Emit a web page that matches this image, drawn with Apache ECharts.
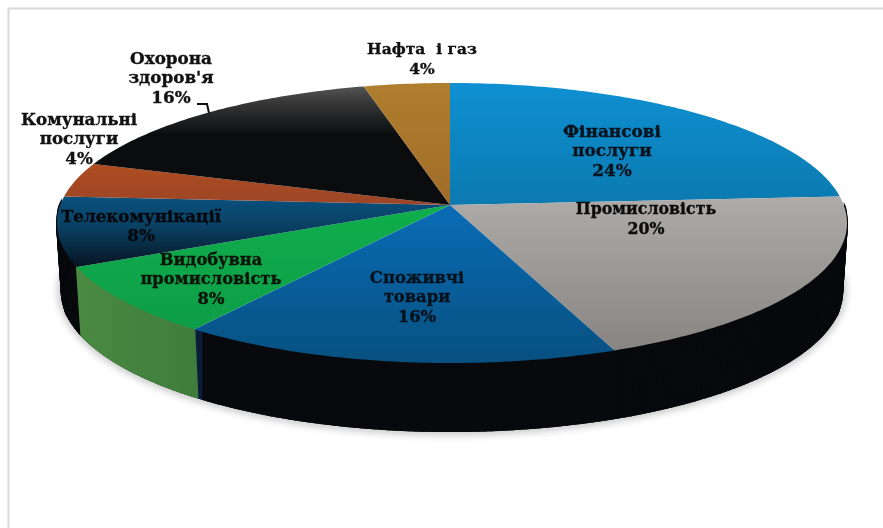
<!DOCTYPE html>
<html><head><meta charset="utf-8">
<style>html,body{margin:0;padding:0;background:#fff}#c{width:883px;height:528px;filter:blur(0.45px)}</style>
<script src="https://cdn.jsdelivr.net/npm/echarts@6/dist/echarts.min.js"></script>
</head><body><div id="c"></div>
<script>
const categories = ["Фінансові\nпослуги","Промисловість","Споживчі\nтовари","Видобувна\nпромисловість","Телекомунікації","Комунальні\nпослуги","Охорона\nздоров'я","Нафта  і газ"];
const shares = [24,20,16,8,8,4,16,4];

// Perspective disc geometry
const view = {cx:450, cy:205, a:393.7, leftScale:0.99, b:137.7, p:0.1286, depth:68, shrink:0.988};
const topFills = [
  [[0,'#0e90d2'],[1,'#0b78ad']],
  [[0,'#aeaba8'],[1,'#86827f']],
  [[0,'#0a6cb6'],[1,'#07507f']],
  [[0,'#0fae4c'],[1,'#0e9c48']],
  [[0,'#0a5585'],[0.45,'#0a4062'],[1,'#05101a']],
  [[0,'#b04e20'],[1,'#9c4526']],
  [[0,'#565656'],[0.4,'#343434'],[1,'#0a0c0e']],
  [[0,'#b07e2e'],[1,'#a06c28']]
];
const topSpans = [[83,215],[195,360],[205,365],[205,340],[190,272],[160,205],[85,135],[83,205]];
const sideBlack = '#07090c';
const labelColors = ['#06121c','#0c0c0c','#06121c','#0c1408','#05090e','#111','#111','#111'];
const labelCenters = [[612,152],[646,220],[417,298],[211,280],[141,227],[79,140],[171,79],[422,60]];
const labelSizes = [16.9,15.8,16.4,16.3,16.7,16.7,16.8,15.5];
const leader = [[197,104],[207,104],[209,113]];

function project(t){ // t = fraction of the full turn, clockwise from the top
  const ang = t*2*Math.PI, u = Math.sin(ang), v = -Math.cos(ang), w = 1 - view.p*v;
  return [view.cx + view.a*(u<0?view.leftScale:1)*u/w, view.cy + view.b*v/w];
}
function lower(pt){ return [view.cx + (pt[0]-view.cx)*view.shrink, pt[1] + view.depth]; }
const total = shares.reduce((s,v)=>s+v,0);
function arcFractions(i){
  let from = 0; for(let k=0;k<i;k++) from += shares[k];
  const out=[]; const n = shares[i]*4;
  for(let k=0;k<=n;k++) out.push((from + shares[i]*k/n)/total);
  return out;
}
function arc(i){ return arcFractions(i).map(project); }
function vgrad(y0,y1,stops){
  return {type:'linear',x:0,y:y0,x2:0,y2:y1,global:true,colorStops:stops.map(s=>({offset:s[0],color:s[1]}))};
}
function sideFill(i){
  if(i===3) return {type:'linear',x:75,y:0,x2:196,y2:0,global:true,colorStops:[{offset:0,color:'#4a8a42'},{offset:1,color:'#3f7d3c'}]};
  if(i===2) return {type:'linear',x:192,y:0,x2:620,y2:0,global:true,colorStops:[{offset:0,color:'#0a1c38'},{offset:0.022,color:'#0a1c38'},{offset:0.026,color:sideBlack},{offset:1,color:sideBlack}]};
  return sideBlack;
}
function isFront(t){ return t>0.25 && t<0.755; }
const option = {
  animation:false,
  backgroundColor:'#fff',
  graphic:[
    {type:'polyline',silent:true,shape:{points:[[8.5,528],[8.5,8.5],[883,8.5]]},style:{stroke:'#d8d8d8',lineWidth:2,fill:null}},
    {type:'polyline',silent:true,z:5,shape:{points:leader},style:{stroke:'#111',lineWidth:2,fill:null}}
  ],
  series:[
    // soft shadow along the lower rim
    {type:'custom',coordinateSystem:'none',silent:true,z:1,
     data:shares.map((v,i)=>[v,i]),
     renderItem(params,api){
       const i=api.value(1), fr=arcFractions(i).filter(isFront);
       if(fr.length<2) return null;
       return {type:'polyline',shape:{points:fr.map(project).map(lower)},
         style:{stroke:'#07090c',lineWidth:2,fill:null,shadowBlur:9,shadowColor:'rgba(0,0,0,0.9)'}};
     }},
    // side wall
    {type:'custom',coordinateSystem:'none',silent:true,z:2,
     data:shares.map((v,i)=>[v,i]),
     renderItem(params,api){
       const i=api.value(1), fr=arcFractions(i), fill=sideFill(i), kids=[];
       for(let k=0;k<fr.length-1;k++){
         if(!isFront(fr[k]) || !isFront(fr[k+1])) continue;
         const a=project(fr[k]), b=project(fr[k+1]);
         kids.push({type:'polygon',z2:i===3?5:1,shape:{points:[a,b,lower(b),lower(a)]},
           style:{fill:fill,stroke:fill,lineWidth:2}});
       }
       return {type:'group',children:kids};
     }},
    // top face
    {type:'custom',coordinateSystem:'none',silent:true,z:3,
     data:shares.map((v,i)=>[v,i]),
     renderItem(params,api){
       const i=api.value(1);
       const pts=[[view.cx,view.cy]].concat(arc(i));
       return {type:'polygon',shape:{points:pts},style:{fill:vgrad(topSpans[i][0],topSpans[i][1],topFills[i])}};
     }},
    // labels
    {type:'custom',coordinateSystem:'none',silent:true,z:4,
     data:shares.map((v,i)=>[v,i]),
     renderItem(params,api){
       const i=api.value(1), c=labelCenters[i];
       return {type:'text',style:{text:categories[i]+'\n'+api.value(0)+'%',x:c[0],y:c[1],align:'center',verticalAlign:'middle',
         font:'bold '+labelSizes[i]+'px "DejaVu Serif"',lineHeight:19.5,fill:labelColors[i],stroke:labelColors[i],lineWidth:0.35}};
     }}
  ]
};
const chart = echarts.init(document.getElementById('c'),null,{renderer:'canvas'});
chart.setOption(option);
</script></body></html>
